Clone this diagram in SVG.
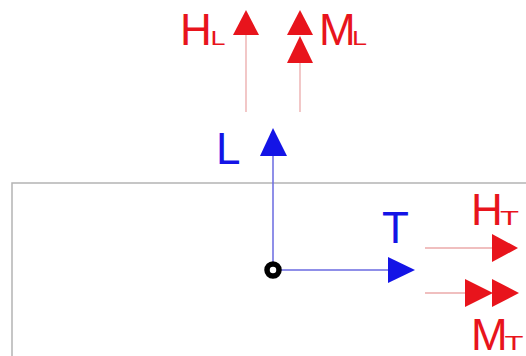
<svg xmlns="http://www.w3.org/2000/svg" width="526" height="356" viewBox="0 0 526 356">
<style>
.red{fill:#e8141c;font-family:"Liberation Sans",Arial,sans-serif}
.blue{fill:#1414e6;font-family:"Liberation Sans",Arial,sans-serif}
.big{font-size:44px}
.sub{font-size:20px}
.rl{stroke:#ebaaaa;stroke-width:1.3;fill:none}
.bl{stroke:#6a6ae0;stroke-width:1.5;fill:none}
.rt{fill:#e8141c}
.bt{fill:#1414e6}
</style>
<rect x="0" y="0" width="526" height="356" fill="#fff"/>
<g id="frame">
<path d="M12 356 V183 H526" stroke="#b4b4b4" stroke-width="1.5" fill="none"/>
</g>
<g id="connectors">
<line class="rl" x1="246" y1="35" x2="246" y2="112"/>
<line class="rl" x1="300" y1="63" x2="300" y2="112"/>
<line class="rl" x1="425" y1="248" x2="492" y2="248"/>
<line class="rl" x1="425" y1="293" x2="465" y2="293"/>
<line class="bl" x1="273" y1="155" x2="273" y2="270"/>
<line class="bl" x1="273" y1="270" x2="388" y2="270"/>
</g>
<g id="HL">
<polygon class="rt" points="246,10 259,35 233,35"/>
<text class="red big" x="180" y="45">H<tspan class="sub" x="210.5" textLength="15" lengthAdjust="spacingAndGlyphs">L</tspan></text>
</g>
<g id="ML">
<polygon class="rt" points="300,10 313,35 287,35"/>
<polygon class="rt" points="300,36 313,63 287,63"/>
<text class="red big" x="319" y="45">M<tspan class="sub" x="352" textLength="15" lengthAdjust="spacingAndGlyphs">L</tspan></text>
</g>
<g id="L">
<polygon class="bt" points="273,128 287,156 260,156"/>
<text class="blue big" x="216" y="164">L</text>
</g>
<g id="T">
<polygon class="bt" points="415,270 388,257 388,283"/>
<text class="blue big" x="382" y="243">T</text>
</g>
<g id="HT">
<polygon class="rt" points="518,248 492,234 492,262"/>
<text class="red big" x="471" y="225">H<tspan class="sub" x="500" textLength="19" lengthAdjust="spacingAndGlyphs">T</tspan></text>
</g>
<g id="MT">
<polygon class="rt" points="493,293 465,279 465,307"/>
<polygon class="rt" points="519,293 492,279 492,307"/>
<text class="red big" x="471" y="350">M<tspan class="sub" x="504.5" textLength="19" lengthAdjust="spacingAndGlyphs">T</tspan></text>
</g>
<g id="origin">
<circle cx="273" cy="270" r="6" fill="#fff" stroke="#000" stroke-width="5.5"/>
</g>
</svg>
